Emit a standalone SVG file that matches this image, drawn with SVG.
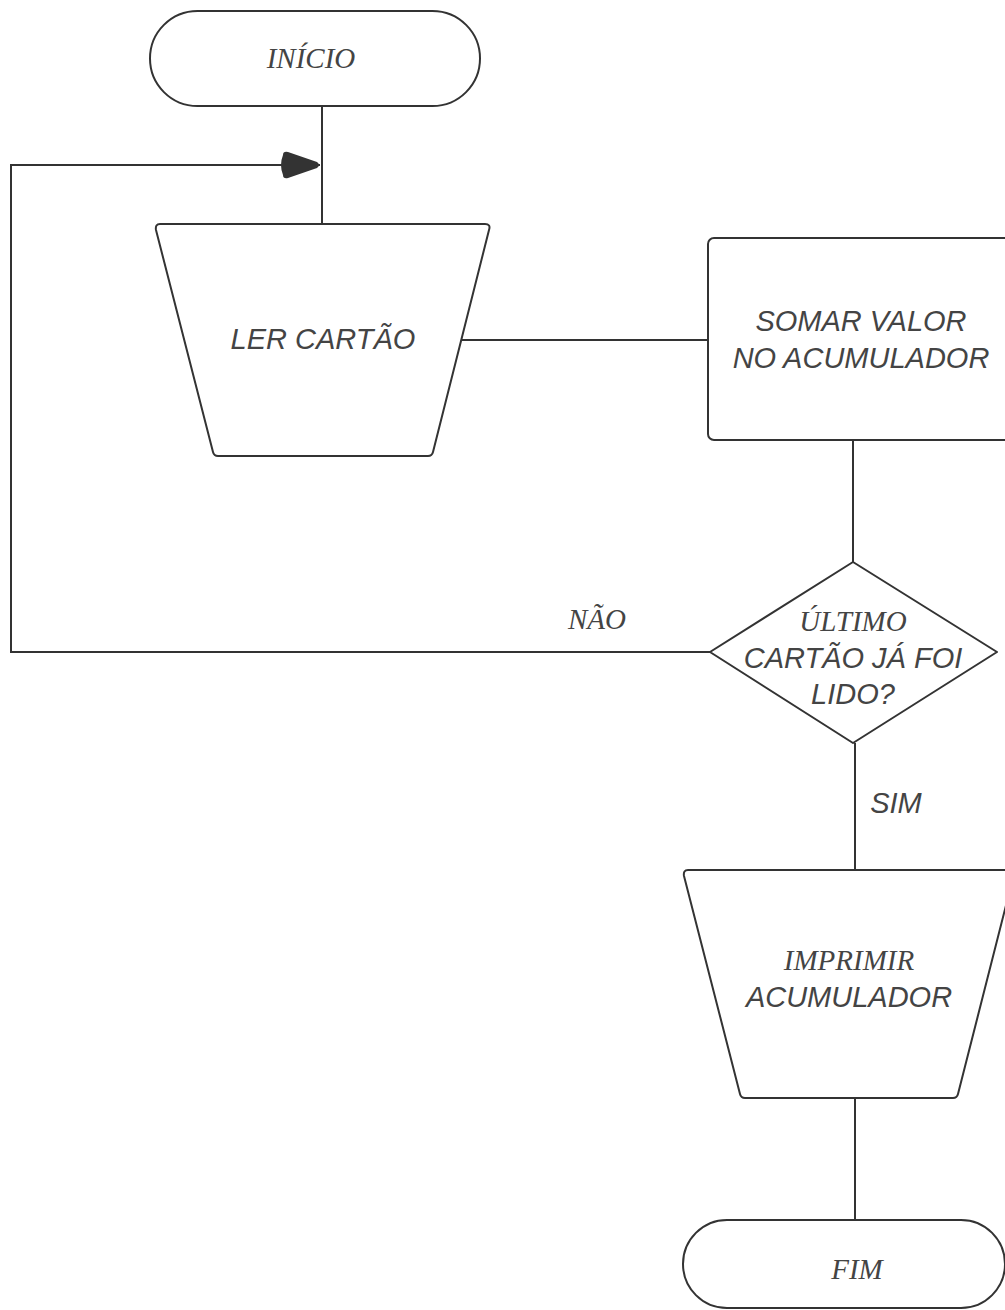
<svg xmlns="http://www.w3.org/2000/svg" width="1005" height="1310" viewBox="0 0 1005 1310">
<style>
.s{fill:#fff;stroke:#333;stroke-width:2;stroke-linejoin:round}
.c{fill:none;stroke:#333;stroke-width:2}
.t{font-family:"Liberation Sans",Arial,sans-serif;font-style:italic;font-size:29px;fill:#444;text-anchor:middle}
.r{font-family:"Liberation Serif","Times New Roman",serif;font-style:italic;font-size:29px;fill:#444;text-anchor:middle}
</style>
<defs>
<marker id="ah" viewBox="0 0 44 28" refX="43" refY="14" markerWidth="44" markerHeight="28" markerUnits="userSpaceOnUse" orient="auto">
<path d="M6 4 Q6 0 11 1 L40 11 Q44 14 40 17 L11 27 Q6 28 6 24 Q2 14 6 4 Z" fill="#333"/>
</marker>
</defs>
<rect width="1005" height="1310" fill="#fff"/>
<g id="connectors">
<line class="c" x1="322" y1="106" x2="322" y2="224"/>
<polyline class="c" points="710,652 11,652 11,165 320,165" marker-end="url(#ah)"/>
<line class="c" x1="461" y1="340" x2="708" y2="340"/>
<line class="c" x1="853" y1="440" x2="853" y2="562"/>
<line class="c" x1="855" y1="743" x2="855" y2="870"/>
<line class="c" x1="855" y1="1098" x2="855" y2="1220"/>
</g>
<g id="inicio">
<rect class="s" x="150" y="11" width="330" height="95" rx="47.5"/>
<text class="r" x="311" y="68">INÍCIO</text>
</g>
<g id="ler">
<path class="s" d="M160 224 L485 224 Q491 224 489 230 L433 452 Q432 456 428 456 L218 456 Q214 456 213 452 L156 230 Q155 224 160 224 Z"/>
<text class="t" x="323" y="349">LER CARTÃO</text>
</g>
<g id="somar">
<rect class="s" x="708" y="238" width="310" height="202" rx="6"/>
<text class="t" x="861" y="331">SOMAR VALOR</text>
<text class="t" x="861" y="368">NO ACUMULADOR</text>
</g>
<g id="decisao">
<polygon class="s" points="853,562 997,652 853,743 710,652"/>
<text class="r" x="853" y="631">ÚLTIMO</text>
<text class="t" x="853" y="668">CARTÃO JÁ FOI</text>
<text class="t" x="853" y="704">LIDO?</text>
</g>
<text class="r" x="597" y="629">NÃO</text>
<text class="t" x="896" y="813">SIM</text>
<g id="imprimir">
<path class="s" d="M688 870 L1015 870 L958 1094 Q957 1098 953 1098 L745 1098 Q741 1098 740 1094 L684 876 Q683 870 688 870 Z"/>
<text class="r" x="849" y="970">IMPRIMIR</text>
<text class="t" x="849" y="1007">ACUMULADOR</text>
</g>
<g id="fim">
<rect class="s" x="683" y="1220" width="322" height="88" rx="44"/>
<text class="r" x="857" y="1279">FIM</text>
</g>
</svg>
